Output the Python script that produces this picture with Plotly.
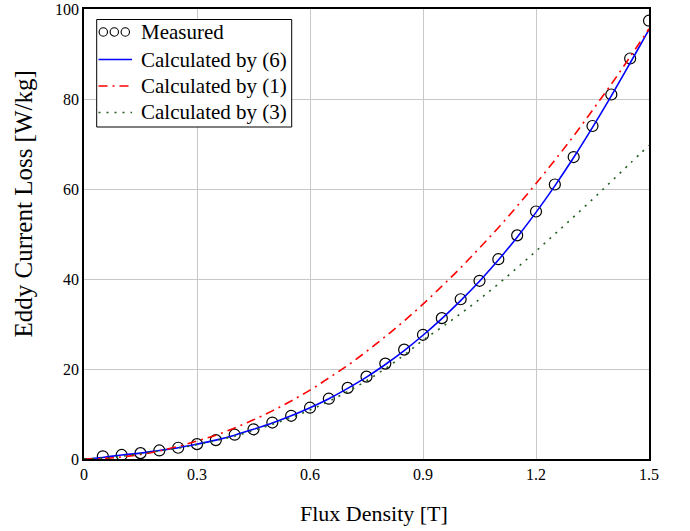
import plotly.graph_objects as go

# Measured points
b_meas = [0.05, 0.10, 0.15, 0.20, 0.25, 0.30, 0.35, 0.40, 0.45, 0.50,
          0.55, 0.60, 0.65, 0.70, 0.75, 0.80, 0.85, 0.90, 0.95, 1.00,
          1.05, 1.10, 1.15, 1.20, 1.25, 1.30, 1.35, 1.40, 1.45, 1.50]
p_meas = [0.6, 0.9, 1.3, 1.9, 2.5, 3.3, 4.2, 5.4, 6.6, 8.1,
          9.6, 11.4, 13.4, 15.8, 18.3, 21.2, 24.3, 27.6, 31.3, 35.5,
          39.6, 44.4, 49.7, 55.0, 61.0, 67.1, 74.0, 81.0, 89.0, 97.4]

# Calculated curves
b_calc = [0.00, 0.05, 0.10, 0.15, 0.20, 0.25, 0.30, 0.35, 0.40, 0.45, 0.50,
          0.55, 0.60, 0.65, 0.70, 0.75, 0.80, 0.85, 0.90, 0.95, 1.00,
          1.05, 1.10, 1.15, 1.20, 1.25, 1.30, 1.35, 1.40, 1.45, 1.50]
p_eq6 = [0.0, 0.35, 0.9, 1.3, 1.9, 2.5, 3.3, 4.2, 5.3, 6.6, 8.0,
         9.6, 11.4, 13.4, 15.7, 18.2, 21.0, 24.1, 27.5, 31.2, 35.2,
         39.5, 44.2, 49.3, 54.8, 60.7, 67.0, 73.7, 80.7, 88.0, 95.4]
p_eq1 = [0.0, 0.11, 0.45, 1.0, 1.8, 2.8, 4.0, 5.3, 6.9, 8.7, 10.7,
         12.9, 15.3, 18.0, 20.8, 23.9, 27.2, 30.7, 34.4, 38.4, 42.5,
         46.9, 51.4, 56.2, 61.2, 66.4, 71.8, 77.5, 83.3, 89.4, 95.6]
p_eq3 = [0.0, 0.2, 0.6, 1.2, 1.8, 2.4, 3.2, 4.1, 5.1, 6.3, 7.7,
         9.2, 10.9, 12.8, 15.0, 17.4, 20.1, 23.1, 26.4, 29.3, 32.3,
         35.5, 38.9, 42.5, 46.2, 50.0, 53.8, 57.7, 61.7, 65.7, 69.7]

series_names = ["Measured", "Calculated by (6)", "Calculated by (1)", "Calculated by (3)"]

x_ticks = [0, 0.3, 0.6, 0.9, 1.2, 1.5]
x_tick_text = ["0", "0.3", "0.6", "0.9", "1.2", "1.5"]
y_ticks = [0, 20, 40, 60, 80, 100]

FONT = "Liberation Serif"
BLUE, RED, GREEN = "#0000ff", "#ff0000", "#1f5f1f"
RED_DASH = "9px,5px,2px,5px"
GREEN_DASH = "2px,6px"

fig = go.Figure()
fig.add_trace(go.Scatter(
    x=b_meas, y=p_meas, mode="markers", name=series_names[0],
    marker=dict(symbol="circle-open", size=11, color="black",
                line=dict(width=1.2, color="black"))))
fig.add_trace(go.Scatter(
    x=b_calc, y=p_eq6, mode="lines", name=series_names[1],
    line=dict(color=BLUE, width=1.6, shape="spline")))
fig.add_trace(go.Scatter(
    x=b_calc, y=p_eq1, mode="lines", name=series_names[2],
    line=dict(color=RED, width=1.6, dash=RED_DASH, shape="spline")))
fig.add_trace(go.Scatter(
    x=b_calc, y=p_eq3, mode="lines", name=series_names[3],
    line=dict(color=GREEN, width=1.6, dash=GREEN_DASH, shape="spline")))

# ---- plot-area geometry (pixels) used for the hand-made legend/titles ----
L, R, T, B = 84, 649, 9, 459
W_, H_ = R - L, B - T
def px(x):
    return (x - L) / W_
def py(y):
    return (B - y) / H_

shapes = []
annotations = []
# legend box
shapes.append(dict(type="rect", xref="paper", yref="paper",
                   x0=px(96.7), x1=px(291.7), y0=py(127), y1=py(19.5),
                   line=dict(color="black", width=1), fillcolor="white", layer="above"))
rows = [32, 59.5, 86, 112.5]
# measured: three small circles
for cx in [103.3, 114.3, 125.3]:
    r = 4.2
    shapes.append(dict(type="circle", xref="paper", yref="paper",
                       x0=px(cx - r), x1=px(cx + r), y0=py(rows[0] + r), y1=py(rows[0] - r),
                       line=dict(color="black", width=1.1), layer="above"))
# line samples
for row, col, dash in [(rows[1], BLUE, "solid"), (rows[2], RED, RED_DASH), (rows[3], GREEN, GREEN_DASH)]:
    shapes.append(dict(type="line", xref="paper", yref="paper",
                       x0=px(98.5), x1=px(132), y0=py(row), y1=py(row),
                       line=dict(color=col, width=1.6, dash=dash), layer="above"))
for row, name in zip(rows, series_names):
    annotations.append(dict(xref="paper", yref="paper", x=px(139), y=py(row),
                            xanchor="left", yanchor="middle", showarrow=False,
                            text=name, font=dict(family=FONT, size=21, color="black")))
# axis titles
annotations.append(dict(xref="paper", yref="paper", x=px(373.5), y=py(513),
                        xanchor="center", yanchor="middle", showarrow=False,
                        text="Flux Density [T]", font=dict(family=FONT, size=22, color="black")))
annotations.append(dict(xref="paper", yref="paper", x=px(22.5), y=py(204),
                        xanchor="center", yanchor="middle", showarrow=False, textangle=-90,
                        text="Eddy Current Loss [W/kg]", font=dict(family=FONT, size=25, color="black")))

fig.update_layout(
    width=690, height=531,
    margin=dict(l=L, r=690 - R, t=T, b=531 - B),
    paper_bgcolor="white", plot_bgcolor="white",
    font=dict(family=FONT, color="black", size=16),
    showlegend=False,
    shapes=shapes, annotations=annotations,
)
fig.update_xaxes(
    range=[0, 1.5], tickvals=x_ticks, ticktext=x_tick_text,
    showgrid=True, gridcolor="#c8c8c8", gridwidth=1,
    showline=True, linecolor="black", linewidth=1.5, mirror=True,
    zeroline=False, ticks="", tickfont=dict(size=16), automargin=False,
    ticklabeloverflow="allow")
fig.update_yaxes(
    range=[0, 100], tickvals=y_ticks,
    showgrid=True, gridcolor="#c8c8c8", gridwidth=1,
    showline=True, linecolor="black", linewidth=1.5, mirror=True,
    zeroline=False, ticks="", tickfont=dict(size=16), automargin=False,
    ticklabeloverflow="allow")

fig.write_html("out.html")
